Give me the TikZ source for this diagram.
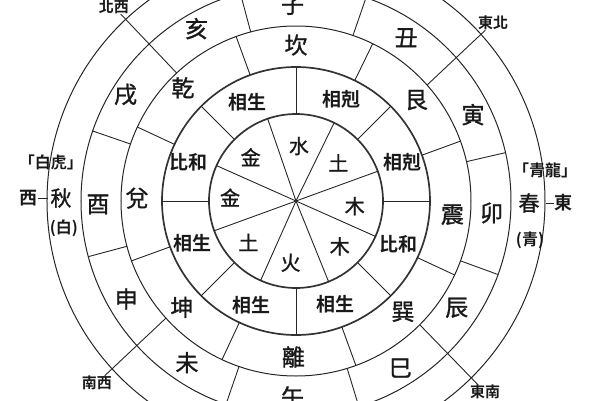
\documentclass[tikz,border=0pt]{standalone}
\usepackage{fontspec}
\setmainfont{Noto Sans CJK TC}[BoldFont={Noto Sans CJK TC Bold}]
\newfontfamily\midfont{Noto Sans CJK TC}[FakeBold=1.2]
\begin{document}
\begin{tikzpicture}[x=1pt,y=1pt,
  ring/.style={draw=black!85, line width=1pt},
  thickring/.style={draw=black!80, line width=1.7pt},
  divider/.style={draw=black!85, line width=0.9pt},
  lab/.style={inner sep=0pt, text=black!90},
  branch/.style={lab, font=\midfont\fontsize{23}{23}\selectfont},
  trigram/.style={lab, font=\midfont\fontsize{23}{23}\selectfont},
  relation/.style={lab, font=\bfseries\fontsize{19}{19}\selectfont},
  element/.style={lab, font=\midfont\fontsize{20}{20}\selectfont},
  season/.style={lab, font=\midfont\fontsize{21}{21}\selectfont},
  beast/.style={lab, font=\bfseries\fontsize{16}{16}\selectfont},
  compass/.style={lab, font=\bfseries\fontsize{18}{18}\selectfont},
  diaglabel/.style={lab, font=\bfseries\fontsize{15}{15}\selectfont}
]
\def\rOne{87}
\def\rTwo{134}
\def\rThree{175}
\def\rFour{215}
\def\rFive{249}
\useasboundingbox (-296,-199) rectangle (304,201);
\clip (-296,-199) rectangle (304,201);

% circles
\draw[ring] (0,0) circle[radius=\rFive];
\draw[ring] (0,0) circle[radius=\rFour];
\draw[ring] (0,0) circle[radius=\rThree];
\draw[thickring] (0,0) circle[radius=\rTwo];
\draw[thickring] (0,0) circle[radius=\rOne];

% inner wedges
\foreach \a in {20,64,109,156,200,246,292,336}
  \draw[divider] (0,0) -- (\a:\rOne);
% relation ring
\foreach \a in {0,45,90,135,180,225,270,315}
  \draw[divider] (\a:\rOne) -- (\a:\rTwo);
% trigram ring
\foreach \a in {20,64,110,155,200,245,290,335}
  \draw[divider] (\a:\rTwo) -- (\a:\rThree);
% branch ring
\foreach \a in {13,71,105,161,195,251,287,340}
  \draw[divider] (\a:\rThree) -- (\a:\rFour);

% five elements
\node[element] (e1) at (87:55) {水};
\node[element] (e2) at (42:57) {土};
\node[element] (e3) at (-5:59) {木};
\node[element] (e4) at (-46:63) {木};
\node[element] (e5) at (265:62) {火};
\node[element] (e6) at (221:63) {土};
\node[element] (e7) at (177:66) {金};
\node[element] (e8) at (136:63) {金};

% relations
\node[relation] (r1) at (116:110) {相生};
\node[relation] (r2) at (66:111) {相剋};
\node[relation] (r3) at (20:113) {相剋};
\node[relation] (r4) at (-23:111) {比和};
\node[relation] (r5) at (-69:111) {相生};
\node[relation] (r6) at (247:113) {相生};
\node[relation] (r7) at (202:112) {相生};
\node[relation] (r8) at (160:114) {比和};

% trigrams
\node[trigram] (t1) at (90:156) {坎};
\node[trigram] (t2) at (40:157) {艮};
\node[trigram] (t3) at (-5:157) {震};
\node[trigram] (t4) at (-46:154) {巽};
\node[trigram] (t5) at (-91:156) {離};
\node[trigram] (t6) at (223:156) {坤};
\node[trigram] (t7) at (179:159) {兌};
\node[trigram] (t8) at (135:160) {乾};

% branches
\node[branch] (b1) at (91:196) {子};
\node[branch] (b2) at (56:197) {丑};
\node[branch] (b3) at (26:197) {寅};
\node[branch] (b4) at (-3.5:196) {卯};
\node[branch] (b5) at (-33.6:193) {辰};
\node[branch] (b6) at (-58:197) {巳};
\node[branch] (b7) at (-91:196) {午};
\node[branch] (b8) at (236:195) {未};
\node[branch] (b9) at (210:196) {申};
\node[branch] (b10) at (181:198) {酉};
\node[branch] (b11) at (148:201) {戌};
\node[branch] (b12) at (120:199) {亥};

% seasons and beasts
\node[season] (autumn) at (-235,3) {秋};
\node[beast] (tiger) at (-245,39) {「白虎」};
\node[beast] (white) at (-232,-27) {(白)};
\node[compass] (west) at (-267,3) {西};
\coordinate (wtick) at (-248,3);
\draw[divider] (west) -- (wtick);

\node[season] (spring) at (233,-2) {春};
\node[beast] (dragon) at (249,31) {「青龍」};
\node[beast] (blue) at (234,-39) {(青)};
\node[compass] (east) at (267,-2) {東};
\coordinate (etick) at (250,-2);
\draw[divider] (etick) -- (east);

% diagonal directions
\node[diaglabel] (nw) at (-182,194) {北西};
\node[diaglabel] (ne) at (197,178) {東北};
\node[diaglabel] (sw) at (-199,-182) {南西};
\node[diaglabel] (se) at (189,-191) {東南};
\coordinate (nwin) at (133:\rThree);
\coordinate (nein) at (41.5:\rThree);
\coordinate (swin) at (222:\rThree);
\coordinate (sein) at (-45:\rThree);
\draw[divider] (nwin) -- (nw);
\draw[divider] (nein) -- (ne);
\draw[divider] (swin) -- (sw);
\draw[divider] (sein) -- (se);
\end{tikzpicture}
\end{document}
